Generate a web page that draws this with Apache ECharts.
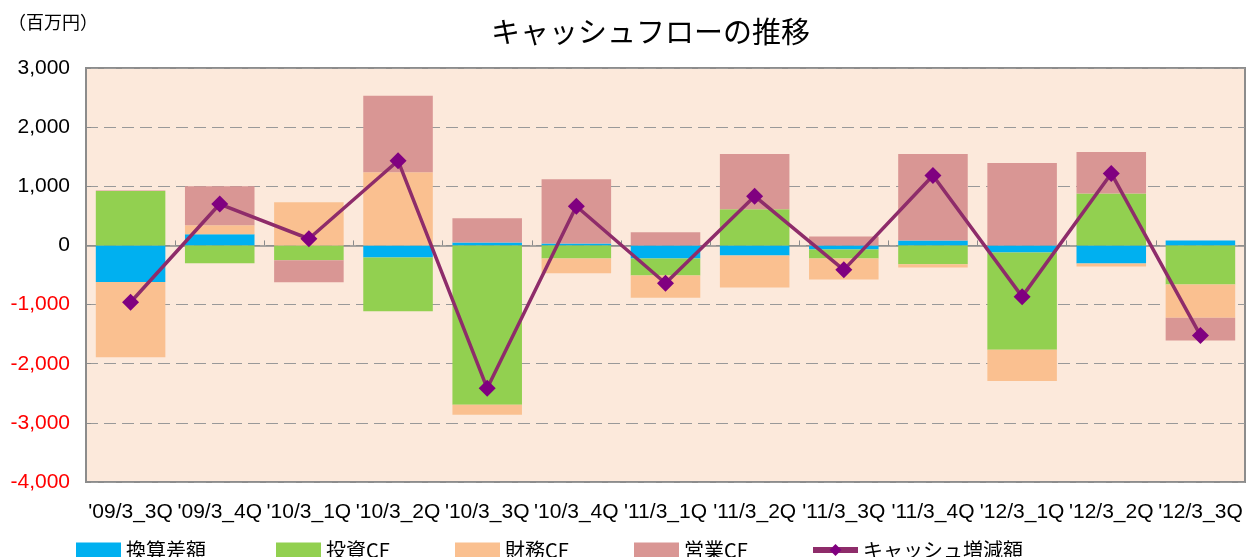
<!DOCTYPE html>
<html>
<head>
<meta charset="utf-8">
<script src="https://cdn.jsdelivr.net/npm/echarts@6/dist/echarts.min.js"></script>
<style>
	html, body { margin: 0; padding: 0; background: #fff; }
	#cashflow { width: 1247px; height: 557px; }
</style>
</head>
<body>
<div id="cashflow"></div>
<script>
// 四半期
var categories = ["'09/3_3Q", "'09/3_4Q", "'10/3_1Q", "'10/3_2Q", "'10/3_3Q", "'10/3_4Q", "'11/3_1Q",
	"'11/3_2Q", "'11/3_3Q", "'11/3_4Q", "'12/3_1Q", "'12/3_2Q", "'12/3_3Q"];
// 百万円
var kansanSagaku = [-620, 190, 0, -204, 51, 34, -221, -170, -68, 85, -119, -306, 85];
var toushiCF = [920, -300, -249, -911, -2694, -221, -289, 611, -153, -317, -1647, 877, -662];
var zaimuCF = [-1270, 150, 730, 1239, -170, -249, -373, -543, -357, -57, -526, -51, -560];
var eigyouCF = [10, 660, -373, 1290, 407, 1087, 221, 934, 153, 1460, 1392, 702, -385];
var cashZougen = [-960, 700, 113, 1432, -2416, 662, -640, 832, -413, 1183, -866, 1217, -1522];
var yTicks = [-4000, -3000, -2000, -1000, 0, 1000, 2000, 3000];

var chart = echarts.init(document.getElementById('cashflow'));

function legendItem(name, left, icon) {
	var lg = {
		left: left,
		top: 535,
		itemWidth: 45,
		itemHeight: 15,
		itemGap: 7,
		data: [name],
		lineStyle: { width: 6 },
		textStyle: { fontFamily: 'Noto Sans CJK JP', fontSize: 20, color: '#000' }
	};
	if (icon) lg.icon = icon;
	return lg;
}

function barSeries(name, color, data) {
	return {
		name: name,
		type: 'bar',
		stack: 'cf',
		barCategoryGap: '22%',
		itemStyle: { color: color },
		data: data
	};
}

var option = {
	animation: false,
	textStyle: { fontFamily: 'Liberation Sans' },
	title: [
		{
			text: 'キャッシュフローの推移',
			left: 486,
			top: 12,
			textStyle: { fontFamily: 'Noto Sans CJK JP', fontSize: 29, fontWeight: 'normal', color: '#000' }
		},
		{
			text: '（百万円）',
			left: 3,
			top: 8,
			textStyle: { fontFamily: 'Noto Sans CJK JP', fontSize: 18, fontWeight: 'normal', color: '#000' }
		}
	],
	legend: [
		legendItem('換算差額', 71, 'rect'),
		legendItem('投資CF', 271, 'rect'),
		legendItem('財務CF', 450, 'rect'),
		legendItem('営業CF', 629, 'rect'),
		legendItem('キャッシュ増減額', 805)
	],
	grid: {
		left: 86,
		right: 2,
		top: 68,
		bottom: 75,
		show: true,
		backgroundColor: '#FCE9DB',
		borderColor: '#8c8c8c',
		borderWidth: 2
	},
	xAxis: [
		{
			type: 'category',
			data: categories,
			position: 'bottom',
			axisLine: { show: false, onZero: false },
			axisTick: { show: false },
			axisLabel: {
				margin: 20,
				fontSize: 21,
				color: '#000',
				interval: 0,
				fontFamily: 'Liberation Sans'
			}
		},
		{
			type: 'category',
			data: categories,
			position: 'top',
			axisLine: { show: true, onZero: true, lineStyle: { color: '#8c8c8c', width: 1.5 } },
			axisTick: { show: true, inside: false, length: 5, lineStyle: { color: '#8c8c8c' } },
			axisLabel: { show: false }
		}
	],
	yAxis: {
		type: 'value',
		min: yTicks[0],
		max: yTicks[yTicks.length - 1],
		interval: 1000,
		axisLine: { show: false },
		axisTick: { show: true, inside: true, length: 5, lineStyle: { color: '#8c8c8c' } },
		splitLine: { show: true, lineStyle: { type: [12, 6], color: '#999', width: 1 } },
		axisLabel: {
			fontSize: 21,
			margin: 16,
			fontFamily: 'Liberation Sans',
			formatter: function (v) {
				return v.toLocaleString('en-US');
			},
			color: function (v) {
				return Number(v) < 0 ? '#ff0000' : '#000';
			}
		}
	},
	series: [
		barSeries('換算差額', '#00B0F0', kansanSagaku),
		barSeries('投資CF', '#92D050', toushiCF),
		barSeries('財務CF', '#FAC090', zaimuCF),
		barSeries('営業CF', '#D99694', eigyouCF),
		{
			name: 'キャッシュ増減額',
			type: 'line',
			data: cashZougen,
			symbol: 'diamond',
			symbolSize: 17,
			z: 5,
			lineStyle: { color: '#8E2C6A', width: 3.5 },
			itemStyle: { color: '#800080' }
		}
	]
};

chart.setOption(option);
</script>
</body>
</html>
